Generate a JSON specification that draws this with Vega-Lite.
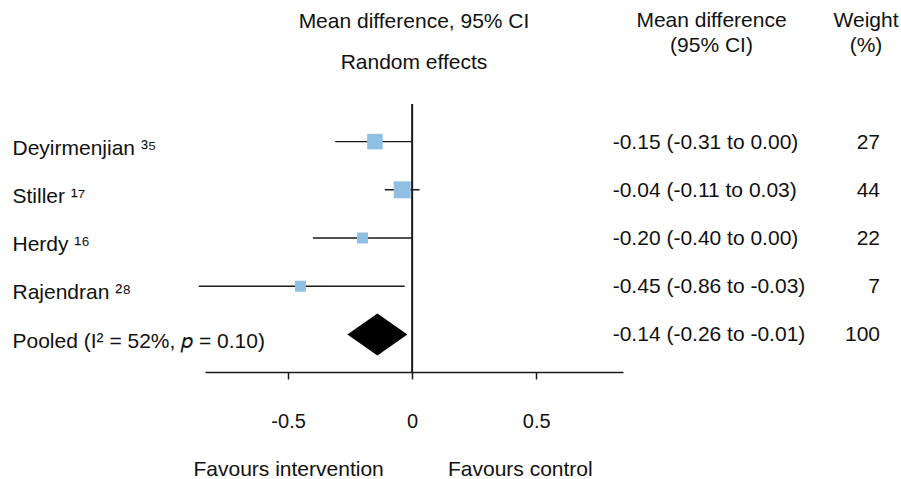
{
  "$schema": "https://vega.github.io/schema/vega-lite/v6.json",
  "width": 418,
  "height": 268,
  "autosize": {"type": "none"},
  "padding": {"left": 205, "top": 104, "right": 278, "bottom": 107},
  "background": "white",
  "config": {"view": {"stroke": null}, "font": "Liberation Sans"},
  "title": {
    "text": "Mean difference, 95% CI",
    "subtitle": "Random effects",
    "frame": "group",
    "anchor": "middle",
    "font": "Liberation Sans",
    "subtitleFont": "Liberation Sans",
    "fontSize": 21,
    "subtitleFontSize": 21,
    "fontWeight": "normal",
    "color": "#111111",
    "subtitleColor": "#111111",
    "subtitlePadding": 20,
    "offset": -63
  },
  "data": {
    "values": [
      {"study": "Deyirmenjian ³⁵", "kind": "study", "md": -0.15, "lo": -0.31, "hi": 0.00, "weight": 27, "ci": "-0.15 (-0.31 to 0.00)"},
      {"study": "Stiller ¹⁷", "kind": "study", "md": -0.04, "lo": -0.11, "hi": 0.03, "weight": 44, "ci": "-0.04 (-0.11 to 0.03)"},
      {"study": "Herdy ¹⁶", "kind": "study", "md": -0.20, "lo": -0.40, "hi": 0.00, "weight": 22, "ci": "-0.20 (-0.40 to 0.00)"},
      {"study": "Rajendran ²⁸", "kind": "study", "md": -0.45, "lo": -0.86, "hi": -0.03, "weight": 7, "ci": "-0.45 (-0.86 to -0.03)"},
      {"study": "Pooled (I² = 52%, \ud835\udc5d = 0.10)", "kind": "pooled", "md": -0.14, "lo": -0.26, "hi": -0.01, "weight": 100, "ci": "-0.14 (-0.26 to -0.01)"}
    ]
  },
  "resolve": {"scale": {"x": "independent"}, "axis": {"x": "independent"}},
  "layer": [
    {
      "layer": [
        {
          "data": {"values": [{"ref": 0}]},
          "mark": {"type": "rule", "color": "#1a1a1a", "strokeWidth": 2, "y2Offset": 10},
          "encoding": {
            "x": {"field": "ref", "type": "quantitative",
              "scale": {"domain": [-0.835, 0.85], "nice": false, "zero": false},
              "axis": {"values": [-0.5, 0, 0.5], "labelExpr": "datum.value == 0 ? '0' : (datum.value < 0 ? '-' + format(-datum.value, '.1f') : format(datum.value, '.1f'))", "grid": false, "domainColor": "#1a1a1a", "domainWidth": 1.5, "tickColor": "#1a1a1a", "tickWidth": 1.5, "tickSize": 7, "labelFont": "Liberation Sans", "labelFontSize": 20, "labelColor": "#111111", "labelBaseline": "alphabetic", "labelPadding": 48, "labelFlush": false, "title": "Favours intervention\u00a0\u00a0\u00a0\u00a0\u00a0\u00a0\u00a0\u00a0\u00a0\u00a0\u00a0Favours control", "titleFont": "Liberation Sans", "titleFontSize": 21, "titleFontWeight": "normal", "titleColor": "#111111", "titleAlign": "left", "titleAnchor": "start", "titleX": -12, "titleY": 103, "titleBaseline": "alphabetic"}}
          }
        },
        {
          "transform": [{"filter": "datum.kind == 'study'"}],
          "mark": {"type": "rule", "color": "#1a1a1a", "strokeWidth": 1.4},
          "encoding": {
            "x": {"field": "lo", "type": "quantitative",
              "scale": {"domain": [-0.835, 0.85], "nice": false, "zero": false},
              "axis": {"values": [-0.5, 0, 0.5], "labelExpr": "datum.value == 0 ? '0' : (datum.value < 0 ? '-' + format(-datum.value, '.1f') : format(datum.value, '.1f'))", "grid": false, "domainColor": "#1a1a1a", "domainWidth": 1.5, "tickColor": "#1a1a1a", "tickWidth": 1.5, "tickSize": 7, "labelFont": "Liberation Sans", "labelFontSize": 20, "labelColor": "#111111", "labelBaseline": "alphabetic", "labelPadding": 48, "labelFlush": false, "title": "Favours intervention\u00a0\u00a0\u00a0\u00a0\u00a0\u00a0\u00a0\u00a0\u00a0\u00a0\u00a0Favours control", "titleFont": "Liberation Sans", "titleFontSize": 21, "titleFontWeight": "normal", "titleColor": "#111111", "titleAlign": "left", "titleAnchor": "start", "titleX": -12, "titleY": 103, "titleBaseline": "alphabetic"}},
            "x2": {"field": "hi"},
            "y": {"field": "study", "type": "nominal", "sort": null, "scale": {"type": "point", "padding": 0.78},
              "axis": {"title": null, "domain": false, "ticks": false, "tickSize": 0, "grid": false, "labelAlign": "left", "labelPadding": 193, "labelBaseline": "alphabetic", "labelOffset": 12.7, "labelFont": "Liberation Sans", "labelFontSize": 21, "labelColor": "#111111", "labelLimit": 500}}
          }
        },
        {
          "transform": [{"filter": "datum.kind == 'study'"}],
          "mark": {"type": "point", "shape": "square", "filled": true, "opacity": 1, "color": "#8fbfe2"},
          "encoding": {
            "x": {"field": "md", "type": "quantitative",
              "scale": {"domain": [-0.835, 0.85], "nice": false, "zero": false},
              "axis": {"values": [-0.5, 0, 0.5], "labelExpr": "datum.value == 0 ? '0' : (datum.value < 0 ? '-' + format(-datum.value, '.1f') : format(datum.value, '.1f'))", "grid": false, "domainColor": "#1a1a1a", "domainWidth": 1.5, "tickColor": "#1a1a1a", "tickWidth": 1.5, "tickSize": 7, "labelFont": "Liberation Sans", "labelFontSize": 20, "labelColor": "#111111", "labelBaseline": "alphabetic", "labelPadding": 48, "labelFlush": false, "title": "Favours intervention\u00a0\u00a0\u00a0\u00a0\u00a0\u00a0\u00a0\u00a0\u00a0\u00a0\u00a0Favours control", "titleFont": "Liberation Sans", "titleFontSize": 21, "titleFontWeight": "normal", "titleColor": "#111111", "titleAlign": "left", "titleAnchor": "start", "titleX": -12, "titleY": 103, "titleBaseline": "alphabetic"}},
            "y": {"field": "study", "type": "nominal", "sort": null, "scale": {"type": "point", "padding": 0.78},
              "axis": {"title": null, "domain": false, "ticks": false, "tickSize": 0, "grid": false, "labelAlign": "left", "labelPadding": 193, "labelBaseline": "alphabetic", "labelOffset": 12.7, "labelFont": "Liberation Sans", "labelFontSize": 21, "labelColor": "#111111", "labelLimit": 500}},
            "size": {"field": "weight", "type": "quantitative", "scale": {"type": "threshold", "domain": [25, 40], "range": [121, 240, 289]}, "legend": null}
          }
        },
        {
          "transform": [{"filter": "datum.kind == 'pooled'"}],
          "mark": {"type": "point", "shape": "M-1,0L0,-0.7L1,0L0,0.7Z", "filled": true, "opacity": 1, "color": "#000000", "size": 3600},
          "encoding": {
            "x": {"field": "md", "type": "quantitative",
              "scale": {"domain": [-0.835, 0.85], "nice": false, "zero": false},
              "axis": {"values": [-0.5, 0, 0.5], "labelExpr": "datum.value == 0 ? '0' : (datum.value < 0 ? '-' + format(-datum.value, '.1f') : format(datum.value, '.1f'))", "grid": false, "domainColor": "#1a1a1a", "domainWidth": 1.5, "tickColor": "#1a1a1a", "tickWidth": 1.5, "tickSize": 7, "labelFont": "Liberation Sans", "labelFontSize": 20, "labelColor": "#111111", "labelBaseline": "alphabetic", "labelPadding": 48, "labelFlush": false, "title": "Favours intervention\u00a0\u00a0\u00a0\u00a0\u00a0\u00a0\u00a0\u00a0\u00a0\u00a0\u00a0Favours control", "titleFont": "Liberation Sans", "titleFontSize": 21, "titleFontWeight": "normal", "titleColor": "#111111", "titleAlign": "left", "titleAnchor": "start", "titleX": -12, "titleY": 103, "titleBaseline": "alphabetic"}},
            "y": {"field": "study", "type": "nominal", "sort": null, "scale": {"type": "point", "padding": 0.78},
              "axis": {"title": null, "domain": false, "ticks": false, "tickSize": 0, "grid": false, "labelAlign": "left", "labelPadding": 193, "labelBaseline": "alphabetic", "labelOffset": 12.7, "labelFont": "Liberation Sans", "labelFontSize": 21, "labelColor": "#111111", "labelLimit": 500}}
          }
        }
      ]
    },
    {
      "layer": [
        {
          "mark": {"type": "text", "align": "left", "baseline": "alphabetic", "dx": -98.3, "dy": 7, "font": "Liberation Sans", "fontSize": 21, "color": "#111111"},
          "encoding": {
            "x": {"datum": "Mean difference (95% CI)", "type": "nominal",
              "scale": {"type": "point", "padding": 0, "domain": ["Mean difference (95% CI)", "Weight (%)"], "range": [506, 660.5]},
              "axis": {"orient": "top", "title": null, "domain": false, "ticks": false, "tickSize": 0, "grid": false, "labelAngle": 0, "labelAlign": "center", "labelBaseline": "alphabetic", "labelPadding": 77.3, "labelLineHeight": 25, "labelFont": "Liberation Sans", "labelFontSize": 21, "labelColor": "#111111", "labelLimit": 500, "labelExpr": "datum.label == 'Weight (%)' ? ['Weight', '(%)'] : ['Mean difference', '(95% CI)']"}},
            "y": {"field": "study", "type": "nominal", "sort": null, "scale": {"type": "point", "padding": 0.78},
              "axis": {"title": null, "domain": false, "ticks": false, "tickSize": 0, "grid": false, "labelAlign": "left", "labelPadding": 193, "labelBaseline": "alphabetic", "labelOffset": 12.7, "labelFont": "Liberation Sans", "labelFontSize": 21, "labelColor": "#111111", "labelLimit": 500}},
            "text": {"field": "ci"}
          }
        },
        {
          "mark": {"type": "text", "align": "right", "baseline": "alphabetic", "dx": 14.5, "dy": 7, "font": "Liberation Sans", "fontSize": 21, "color": "#111111"},
          "encoding": {
            "x": {"datum": "Weight (%)", "type": "nominal",
              "scale": {"type": "point", "padding": 0, "domain": ["Mean difference (95% CI)", "Weight (%)"], "range": [506, 660.5]},
              "axis": {"orient": "top", "title": null, "domain": false, "ticks": false, "tickSize": 0, "grid": false, "labelAngle": 0, "labelAlign": "center", "labelBaseline": "alphabetic", "labelPadding": 77.3, "labelLineHeight": 25, "labelFont": "Liberation Sans", "labelFontSize": 21, "labelColor": "#111111", "labelLimit": 500, "labelExpr": "datum.label == 'Weight (%)' ? ['Weight', '(%)'] : ['Mean difference', '(95% CI)']"}},
            "y": {"field": "study", "type": "nominal", "sort": null, "scale": {"type": "point", "padding": 0.78},
              "axis": {"title": null, "domain": false, "ticks": false, "tickSize": 0, "grid": false, "labelAlign": "left", "labelPadding": 193, "labelBaseline": "alphabetic", "labelOffset": 12.7, "labelFont": "Liberation Sans", "labelFontSize": 21, "labelColor": "#111111", "labelLimit": 500}},
            "text": {"field": "weight", "type": "quantitative"}
          }
        }
      ]
    }
  ]
}
